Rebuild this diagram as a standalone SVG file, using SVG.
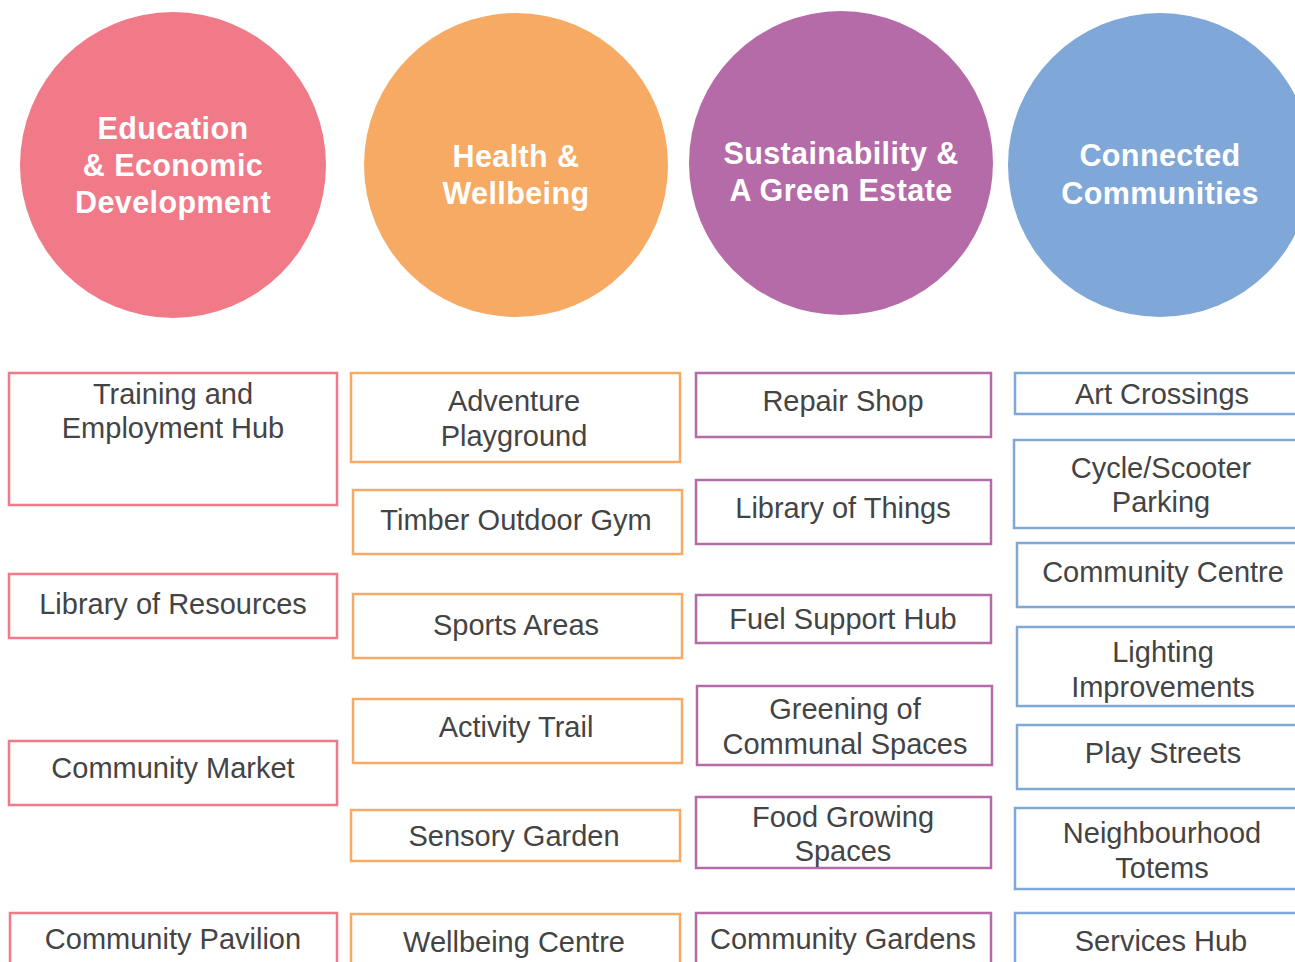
<svg xmlns="http://www.w3.org/2000/svg" width="1295" height="962" viewBox="0 0 1295 962">
<style>
.ct{font-family:"Liberation Sans",Arial,sans-serif;font-weight:bold;font-size:30.5px;fill:#fff;text-anchor:middle;letter-spacing:0.4px}
.bt{font-family:"Liberation Sans",Arial,sans-serif;font-size:29px;fill:#444;text-anchor:middle}
rect{fill:#fff;stroke-width:2.5}
.p rect{stroke:#F07A88}
.o rect{stroke:#F6AA63}
.u rect{stroke:#B56BA8}
.b rect{stroke:#7FA8D8}
</style>
<rect width="1295" height="962" fill="#fff" stroke="none"/>
<g id="circle-education"><circle cx="173" cy="165" r="153" fill="#F07A88"/><text class="ct" x="173" y="139">Education</text><text class="ct" x="173" y="176">&amp; Economic</text><text class="ct" x="173" y="213">Development</text></g>
<g id="circle-health"><circle cx="516" cy="165" r="152" fill="#F6AA63"/><text class="ct" x="516" y="167">Health &amp;</text><text class="ct" x="516" y="204">Wellbeing</text></g>
<g id="circle-sustainability"><circle cx="841" cy="163" r="152" fill="#B56BA8"/><text class="ct" x="841" y="164">Sustainability &amp;</text><text class="ct" x="841" y="201">A Green Estate</text></g>
<g id="circle-connected"><circle cx="1160" cy="165" r="152" fill="#7FA8D8"/><text class="ct" x="1160" y="166">Connected</text><text class="ct" x="1160" y="204">Communities</text></g>

<g class="p">
<g id="n-training"><rect x="9" y="373" width="328" height="132"/><text class="bt" x="173" y="404">Training and</text><text class="bt" x="173" y="438">Employment Hub</text></g>
<g id="n-libres"><rect x="9" y="574" width="328" height="64"/><text class="bt" x="173" y="614">Library of Resources</text></g>
<g id="n-market"><rect x="9" y="741" width="328" height="64"/><text class="bt" x="173" y="778">Community Market</text></g>
<g id="n-pavilion"><rect x="10" y="913" width="327" height="60"/><text class="bt" x="173" y="949">Community Pavilion</text></g>
</g>
<g class="o">
<g id="n-adventure"><rect x="351" y="373" width="329" height="89"/><text class="bt" x="514" y="411">Adventure</text><text class="bt" x="514" y="446">Playground</text></g>
<g id="n-timber"><rect x="353" y="490" width="329" height="64"/><text class="bt" x="516" y="530">Timber Outdoor Gym</text></g>
<g id="n-sports"><rect x="353" y="594" width="329" height="64"/><text class="bt" x="516" y="635">Sports Areas</text></g>
<g id="n-activity"><rect x="353" y="699" width="329" height="64"/><text class="bt" x="516" y="737">Activity Trail</text></g>
<g id="n-sensory"><rect x="351" y="810" width="329" height="51"/><text class="bt" x="514" y="846">Sensory Garden</text></g>
<g id="n-wellbeing"><rect x="351" y="914" width="329" height="60"/><text class="bt" x="514" y="952">Wellbeing Centre</text></g>
</g>
<g class="u">
<g id="n-repair"><rect x="696" y="373" width="295" height="64"/><text class="bt" x="843" y="411">Repair Shop</text></g>
<g id="n-libthings"><rect x="696" y="480" width="295" height="64"/><text class="bt" x="843" y="518">Library of Things</text></g>
<g id="n-fuel"><rect x="696" y="595" width="295" height="48"/><text class="bt" x="843" y="629">Fuel Support Hub</text></g>
<g id="n-greening"><rect x="697" y="686" width="295" height="79"/><text class="bt" x="845" y="719">Greening of</text><text class="bt" x="845" y="754">Communal Spaces</text></g>
<g id="n-food"><rect x="696" y="797" width="295" height="71"/><text class="bt" x="843" y="827">Food Growing</text><text class="bt" x="843" y="861">Spaces</text></g>
<g id="n-gardens"><rect x="696" y="913" width="295" height="60"/><text class="bt" x="843" y="949">Community Gardens</text></g>
</g>
<g class="b">
<g id="n-art"><rect x="1015" y="373" width="300" height="41"/><text class="bt" x="1162" y="404">Art Crossings</text></g>
<g id="n-cycle"><rect x="1014" y="440" width="300" height="88"/><text class="bt" x="1161" y="478">Cycle/Scooter</text><text class="bt" x="1161" y="512">Parking</text></g>
<g id="n-centre"><rect x="1017" y="543" width="300" height="64"/><text class="bt" x="1163" y="582">Community Centre</text></g>
<g id="n-lighting"><rect x="1017" y="627" width="300" height="79"/><text class="bt" x="1163" y="662">Lighting</text><text class="bt" x="1163" y="697">Improvements</text></g>
<g id="n-play"><rect x="1017" y="725" width="300" height="64"/><text class="bt" x="1163" y="763">Play Streets</text></g>
<g id="n-totems"><rect x="1015" y="808" width="300" height="81"/><text class="bt" x="1162" y="843">Neighbourhood</text><text class="bt" x="1162" y="878">Totems</text></g>
<g id="n-services"><rect x="1015" y="913" width="300" height="60"/><text class="bt" x="1161" y="951">Services Hub</text></g>
</g>
<g id="connectors"/>
</svg>
